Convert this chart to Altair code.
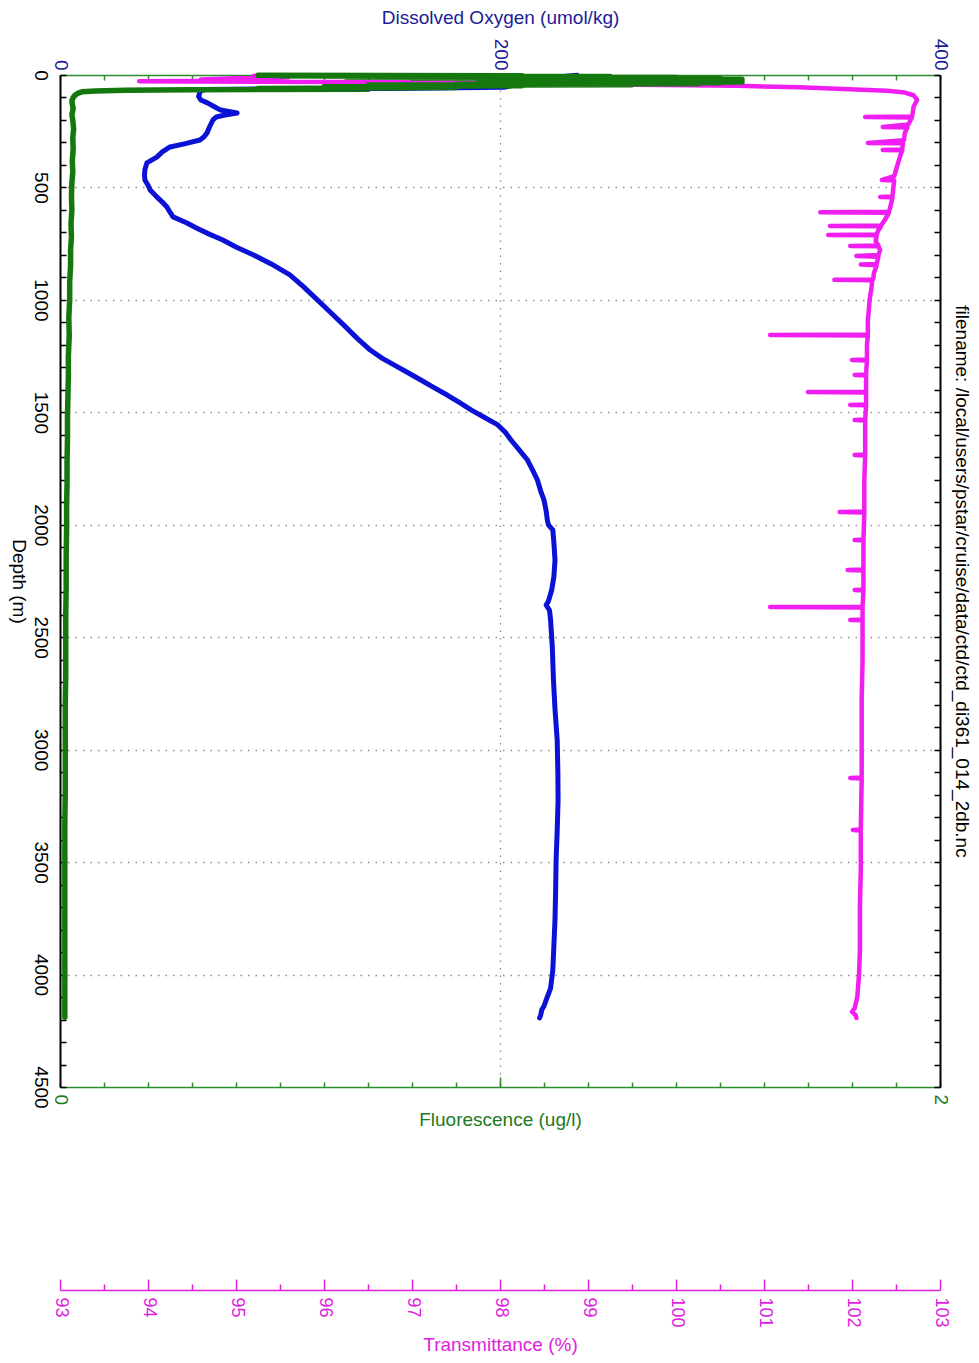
import altair as alt
import pandas as pd

# ---------------- data ----------------
oxy_depth = [1, 8, 18, 28, 38, 48, 55, 60, 62, 65, 70, 80, 95, 111, 124, 140, 156, 169, 178, 187,
             200, 230, 258, 275, 289, 305, 320, 342, 365, 391, 420, 445, 467, 490, 511, 542, 565,
             587, 610, 631, 658, 680, 703, 734, 765, 800, 840, 889, 940, 1000, 1056, 1112, 1170,
             1223, 1260, 1290, 1323, 1356, 1390, 1423, 1456, 1490, 1523, 1556, 1590, 1623, 1670,
             1712, 1760, 1801, 1850, 1890, 1940, 1979, 2000, 2023, 2080, 2157, 2230, 2290, 2340,
             2357, 2380, 2423, 2550, 2690, 2820, 2957, 3100, 3224, 3360, 3490, 3620, 3757, 3870,
             3980, 4060, 4113, 4140, 4157, 4180, 4193]
oxy_value = [235, 228, 222, 215, 210, 205, 202, 150, 90, 66, 64, 63.5, 63, 64, 67, 70, 73, 80.5, 75, 71,
             69.5, 68, 66.8, 65.5, 63.6, 57, 50, 46.5, 44, 39.5, 38.6, 38.4, 38.6, 40, 41, 44, 46.5,
             48.6, 50, 51.4, 57.7, 62, 66.8, 74, 80, 88, 96, 104.5, 110.5, 117, 123, 129, 135,
             141, 146.5, 152, 158, 164, 170, 176, 181.5, 187, 193, 199, 202.5, 205, 209,
             212.5, 215, 217, 218.5, 220, 221, 221.5, 222, 224, 224.5, 225, 224.5, 223.5, 222,
             221, 222.5, 223, 223.8, 224.3, 225, 226, 226.3, 226.4, 226, 225.5, 225.3, 225, 224.5,
             224, 223, 221, 220, 219, 218.5, 218]

fl_depth = [1, 3, 5, 7, 9, 11, 13, 15, 17, 19, 21, 23, 25, 27, 29, 31, 33, 35, 37, 39, 41, 43, 45,
            48, 52, 56, 60, 63, 66, 68, 71, 75, 82, 90, 100, 115, 130, 150, 175, 200, 240, 280,
            330, 380, 430, 480, 540, 600, 660, 720, 780, 850, 920, 1000, 1080, 1160, 1250, 1340,
            1430, 1520, 1620, 1720, 1820, 1920, 2020, 2150, 2280, 2410, 2540, 2670, 2800, 2930,
            3060, 3190, 3320, 3450, 3580, 3710, 3840, 3970, 4100, 4190]
fl_value = [0.45, 1.05, 0.5, 1.25, 0.65, 1.4, 0.8, 1.5, 0.95, 1.55, 1.1, 1.52, 1.2, 1.55, 1.3, 1.55,
            1.25, 1.5, 1.1, 1.45, 0.9, 1.3, 0.7, 1.05, 0.6, 0.9, 0.45, 0.7, 0.3, 0.15, 0.08, 0.05,
            0.04, 0.034, 0.03, 0.027, 0.028, 0.03, 0.027, 0.029, 0.031, 0.029, 0.03, 0.028, 0.029,
            0.027, 0.026, 0.027, 0.025, 0.026, 0.024, 0.024, 0.022, 0.022, 0.02, 0.021, 0.019,
            0.019, 0.018, 0.017, 0.017, 0.016, 0.016, 0.015, 0.015, 0.014, 0.014, 0.013, 0.013,
            0.013, 0.012, 0.012, 0.012, 0.012, 0.011, 0.011, 0.011, 0.011, 0.011, 0.011, 0.011,
            0.011]

tr_depth = [1, 5, 10, 15, 20, 24, 28, 31, 36, 42, 48, 55, 62, 70, 78, 90, 111, 140, 170, 185, 187,
            189, 220, 231, 233, 258, 290, 302, 304, 331, 333, 335, 370, 409, 450, 467, 469, 500,
            540, 542, 544, 580, 608, 610, 612, 640, 669, 671, 673, 690, 709, 711, 713, 740, 758,
            760, 762, 778, 800, 805, 808, 840, 843, 846, 880, 909, 911, 913, 950, 1000, 1050,
            1090, 1154, 1156, 1158, 1200, 1265, 1267, 1269, 1332, 1334, 1336, 1408, 1410, 1412,
            1465, 1467, 1469, 1532, 1534, 1536, 1600, 1688, 1690, 1692, 1800, 1941, 1943, 1945,
            2066, 2068, 2070, 2199, 2201, 2203, 2288, 2290, 2292, 2364, 2366, 2368, 2421, 2423,
            2425, 2600, 2780, 3000, 3124, 3126, 3128, 3355, 3357, 3359, 3535, 3700, 3890, 4000,
            4100, 4150, 4166, 4180, 4193]
tr_value = [95.8, 95.2, 95.6, 95.0, 94.6, 95.2, 93.9, 96.4, 98.0, 99.3, 100.7, 101.4, 101.9, 102.4,
            102.6, 102.7, 102.74, 102.7, 102.69, 102.68, 102.15, 102.68, 102.64, 102.35, 102.63,
            102.6, 102.59, 102.18, 102.58, 102.57, 102.35, 102.57, 102.54, 102.51, 102.48, 102.34,
            102.48, 102.47, 102.46, 102.32, 102.46, 102.44, 102.42, 101.64, 102.42, 102.38, 102.33,
            101.75, 102.33, 102.3, 102.28, 101.73, 102.28, 102.27, 102.3, 101.98, 102.3, 102.32,
            102.3, 102.05, 102.3, 102.28, 102.1, 102.28, 102.25, 102.24, 101.8, 102.23, 102.22,
            102.2, 102.19, 102.18, 102.18, 101.07, 102.18, 102.17, 102.17, 102.0, 102.17, 102.16,
            102.03, 102.16, 102.16, 101.5, 102.16, 102.16, 101.98, 102.16, 102.15, 102.03, 102.15,
            102.15, 102.15, 102.03, 102.15, 102.14, 102.14, 101.86, 102.14, 102.13, 102.03, 102.13,
            102.13, 101.95, 102.13, 102.13, 102.03, 102.13, 102.12, 101.07, 102.12, 102.12, 101.98,
            102.12, 102.12, 102.11, 102.11, 102.11, 101.98, 102.11, 102.1, 102.01, 102.1, 102.1,
            102.09, 102.09, 102.08, 102.06, 102.03, 102.0, 102.04, 102.05]

depth_labels = [0, 500, 1000, 1500, 2000, 2500, 3000, 3500, 4000, 4500]
depth_minor = list(range(0, 4501, 100))
oxy_labels = [0, 200, 400]
fl_labels = [0, 1, 2]
fl_minor = [i / 10 for i in range(21)]
tr_major = list(range(93, 104))
tr_minor = [93.5, 94.5, 95.5, 96.5, 97.5, 98.5, 99.5, 100.5, 101.5, 102.5]

FILENAME = "filename: /local/users/pstar/cruise/data/ctd/ctd_di361_014_2db.nc"

# ---------------- styles ----------------
FONT = "Liberation Sans"
BLUE = "#0b12d6"
NAVY = "#1c1c96"
GREEN = "#15780f"
GREEN_AX = "#2e8b2e"
GREEN_TXT = "#217a21"
MAGENTA = "#f01ef0"
MAG_TXT = "#dd22dd"
GRID = "#8c8c8c"

df_o = pd.DataFrame({"depth": oxy_depth, "v": oxy_value, "i": range(len(oxy_depth))})
df_f = pd.DataFrame({"depth": fl_depth, "v": fl_value, "i": range(len(fl_depth))})
df_t = pd.DataFrame({"depth": tr_depth, "v": tr_value, "i": range(len(tr_depth))})

yscale = alt.Scale(domain=[0, 4500], reverse=True, nice=False, zero=False)
oscale = dict(domain=[0, 400], nice=False, zero=False)
fscale = dict(domain=[0, 2], nice=False, zero=False)
tscale = dict(domain=[93, 103], nice=False, zero=False)

def tick_axis(orient, values, size, offset, color):
    return alt.Axis(orient=orient, values=values, labels=False, domain=False, grid=False,
                    ticks=True, tickSize=size, tickWidth=1.5, tickColor=color,
                    offset=offset, title=None)

# y axes
y_left = alt.Axis(orient="left", values=depth_labels, format="d", labelAngle=90, labelFontSize=19,
                  labelColor="black", labelPadding=11, ticks=False, domainColor="black",
                  domainWidth=2, grid=True, gridColor=GRID, gridDash=[1.5, 6], gridWidth=1.3,
                  gridOpacity={"condition": {"test": "datum.value > 0 && datum.value < 4500",
                                             "value": 1}, "value": 0},
                  title="Depth (m)", titleAngle=90, titleBaseline="top", titleFontSize=19,
                  titleColor="black", titlePadding=3)
y_right = alt.Axis(orient="right", labels=False, ticks=False, grid=False, domainColor="black",
                   domainWidth=2, title=FILENAME, titleAngle=90, titleFontSize=19,
                   titleColor="black", titlePadding=11)

# x axes
x_oxy = alt.Axis(orient="top", values=oxy_labels, format="d", labelAngle=90, labelFlush=False,
                 labelOverlap=False, labelColor=NAVY, labelFontSize=19, labelPadding=5,
                 ticks=False, domainColor=GREEN_AX, domainWidth=1.5, grid=True, gridColor=GRID,
                 gridDash=[1.5, 6], gridWidth=1.3,
                 gridOpacity={"condition": {"test": "datum.value === 200", "value": 1}, "value": 0},
                 title="Dissolved Oxygen (umol/kg)", titleColor=NAVY, titleFontSize=19,
                 titlePadding=11)
x_fl = alt.Axis(orient="bottom", values=fl_labels, format="d", labelAngle=90, labelFlush=False,
                labelOverlap=False, labelColor=GREEN_TXT, labelFontSize=19, labelPadding=7,
                ticks=False, domainColor=GREEN_AX, domainWidth=1.5, grid=False,
                title="Fluorescence (ug/l)", titleColor=GREEN_TXT, titleFontSize=19,
                titlePadding=6)
x_tr = alt.Axis(orient="bottom", values=tr_major, format="d", labelAngle=90, labelFlush=False,
                labelOverlap=False, labelColor=MAG_TXT, labelFontSize=18, labelPadding=7,
                ticks=False, domainColor=MAG_TXT, domainWidth=1.5, grid=False, offset=203,
                title="Transmittance (%)", titleColor=MAG_TXT, titleFontSize=19,
                titlePadding=8)

order = alt.Order("i:Q")

fl_line = alt.Chart(df_f).mark_line(color=GREEN, strokeWidth=5.5, strokeJoin="round",
                                    strokeCap="round").encode(
    x=alt.X("v:Q", scale=alt.Scale(**fscale), axis=x_fl),
    y=alt.Y("depth:Q", scale=yscale, axis=y_right),
    order=order)

oxy_line = alt.Chart(df_o).mark_line(color=BLUE, strokeWidth=5, strokeJoin="round",
                                     strokeCap="round").encode(
    x=alt.X("v:Q", scale=alt.Scale(**oscale), axis=x_oxy),
    y=alt.Y("depth:Q", scale=yscale, axis=y_left),
    order=order)

tr_line = alt.Chart(df_t).mark_line(color=MAGENTA, strokeWidth=4.5, strokeJoin="round",
                                    strokeCap="round").encode(
    x=alt.X("v:Q", scale=alt.Scale(**tscale), axis=x_tr),
    y=alt.Y("depth:Q", scale=yscale, axis=None),
    order=order)

def ghost(df, sc, xaxis, yaxis=None):
    return alt.Chart(df).mark_point(opacity=0, size=1).encode(
        x=alt.X("v:Q", scale=alt.Scale(**sc), axis=xaxis),
        y=alt.Y("depth:Q", scale=yscale, axis=yaxis))

g1 = ghost(df_f, fscale, tick_axis("top", fl_minor, 5, -5, GREEN_AX),
           tick_axis("left", depth_minor, 6, -6, "black"))
g2 = ghost(df_f, fscale, tick_axis("bottom", fl_minor, 5, -5, GREEN_AX),
           tick_axis("right", depth_minor, 6, -6, "black"))
g3 = ghost(df_f, fscale, tick_axis("bottom", [1], 10, -10, GREEN_AX))
g4 = ghost(df_t, tscale, tick_axis("bottom", tr_major, 11, 192, MAG_TXT))
g5 = ghost(df_t, tscale, tick_axis("bottom", tr_minor, 6, 197, MAG_TXT))

chart = alt.layer(g1, g2, g3, g4, g5, oxy_line, tr_line, fl_line).resolve_scale(
    x="independent", y="shared"
).resolve_axis(
    x="independent", y="independent"
).properties(
    width=880, height=1012,
    padding={"left": 52, "top": 67, "right": 31, "bottom": 268},
    autosize=alt.AutoSizeParams(type="none"),
).configure_view(stroke=None).configure_axis(
    labelFont=FONT, titleFont=FONT, titleFontWeight="normal"
)

chart.save("out.html", embed_options={"renderer": "svg", "actions": False})
